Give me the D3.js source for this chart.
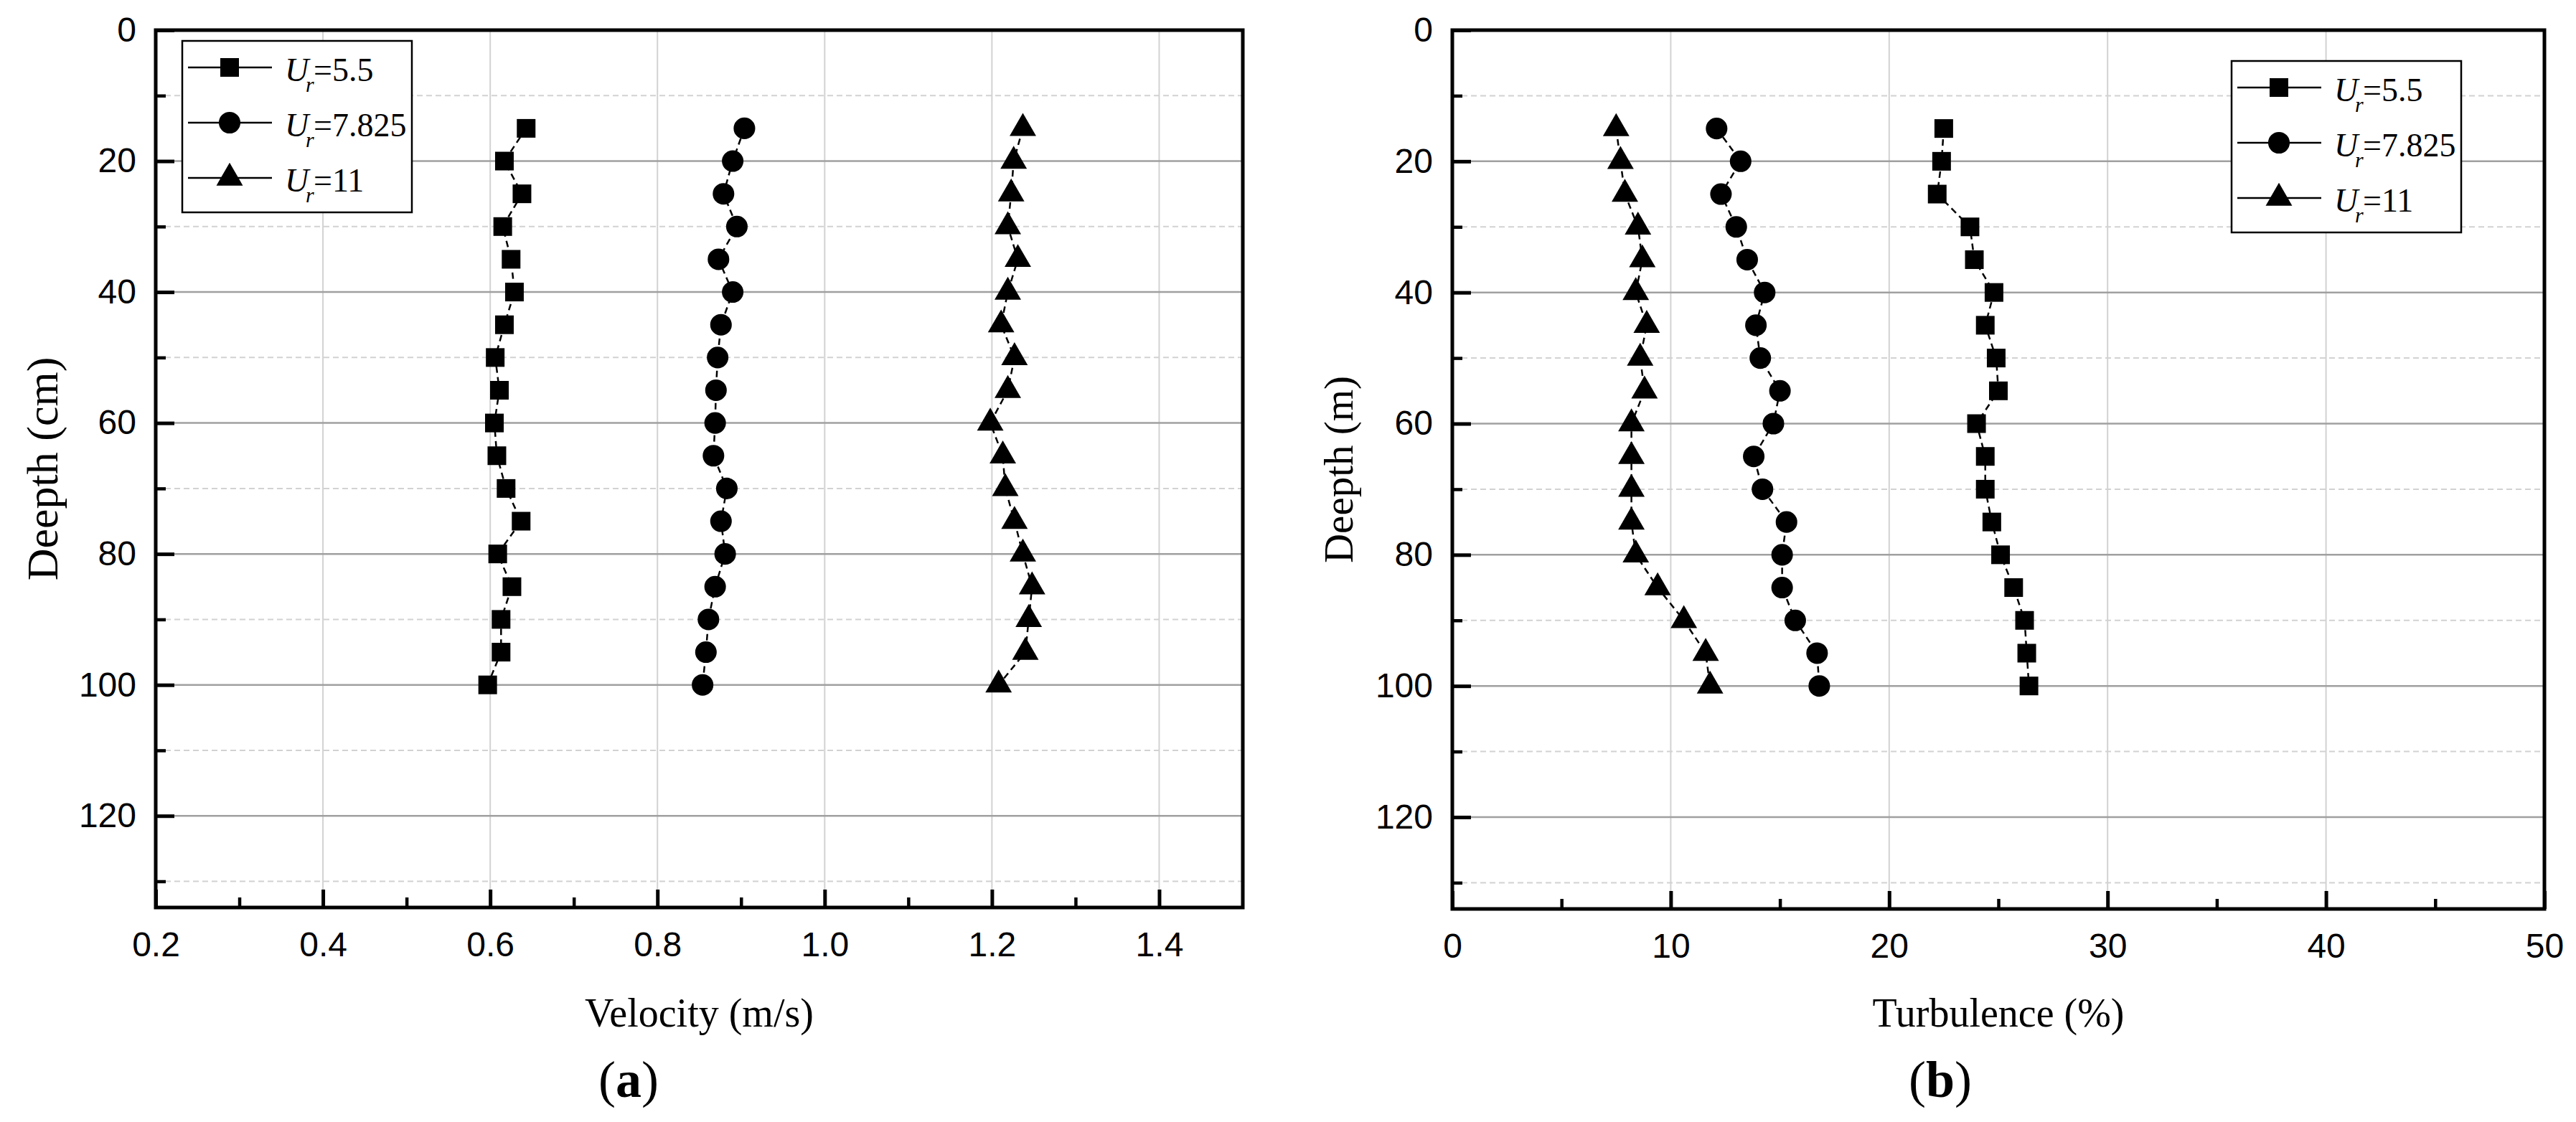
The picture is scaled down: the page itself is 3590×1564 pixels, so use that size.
<!DOCTYPE html>
<html>
<head>
<meta charset="utf-8">
<script src="https://cdn.jsdelivr.net/npm/d3@7"></script>
<style>
  body { margin: 0; background: #fff; }
  svg { display: block; }
</style>
</head>
<body>
<svg id="chart" width="3590" height="1564"></svg>
<script>
// depth of each measuring point (cm)
var depths = [15, 20, 25, 30, 35, 40, 45, 50, 55, 60, 65, 70, 75, 80, 85, 90, 95, 100];

// velocity (m/s)
var vel_55   = [0.643, 0.617, 0.638, 0.615, 0.625, 0.629, 0.617, 0.606, 0.611, 0.605, 0.608, 0.619, 0.637, 0.609, 0.626, 0.613, 0.613, 0.597];
var vel_7825 = [0.904, 0.890, 0.879, 0.895, 0.873, 0.890, 0.876, 0.872, 0.870, 0.869, 0.867, 0.883, 0.876, 0.881, 0.869, 0.861, 0.858, 0.854];
var vel_11   = [1.237, 1.226, 1.223, 1.219, 1.231, 1.219, 1.211, 1.227, 1.219, 1.198, 1.213, 1.216, 1.227, 1.237, 1.248, 1.244, 1.240, 1.208];

// turbulence (%)
var turb_55   = [22.5, 22.4, 22.2, 23.7, 23.9, 24.8, 24.4, 24.9, 25.0, 24.0, 24.4, 24.4, 24.7, 25.1, 25.7, 26.2, 26.3, 26.4];
var turb_7825 = [12.1, 13.2, 12.3, 13.0, 13.5, 14.3, 13.9, 14.1, 15.0, 14.7, 13.8, 14.2, 15.3, 15.1, 15.1, 15.7, 16.7, 16.8];
var turb_11   = [7.5, 7.7, 7.9, 8.5, 8.7, 8.4, 8.9, 8.6, 8.8, 8.2, 8.2, 8.2, 8.2, 8.4, 9.4, 10.6, 11.6, 11.8];

var series_labels = ["5.5", "7.825", "11"];

var depth_ticks = [0, 20, 40, 60, 80, 100, 120];
var depth_minor = [10, 30, 50, 70, 90, 110, 130];
var vel_ticks = [0.2, 0.4, 0.6, 0.8, 1.0, 1.2, 1.4];
var vel_minor = [0.3, 0.5, 0.7, 0.9, 1.1, 1.3];
var turb_ticks = [0, 10, 20, 30, 40, 50];
var turb_minor = [5, 15, 25, 35, 45];

var svg = d3.select("#chart");
svg.append("rect").attr("width", 3590).attr("height", 1564).attr("fill", "#fff");

// square, circle, triangle
var symbols = [
    d3.symbol().type(d3.symbolSquare).size(676),
    d3.symbol().type(d3.symbolCircle).size(710),
    d3.symbol().type(d3.symbolTriangle).size(590)
];

var serif = "'Liberation Serif', 'Times New Roman', serif";
var sans = "'Liberation Sans', Arial, sans-serif";

function draw_panel(opt) {
    var g = svg.append("g");
    var x = d3.scaleLinear().domain(opt.xdomain).range([opt.left, opt.right]);
    var y = d3.scaleLinear().domain([0, 134]).range([opt.top, opt.bottom]);

    // grid (vertical only at inner major ticks)
    g.selectAll(".vgrid").data(opt.xticks.slice(1)).enter()
        .append("line")
        .attr("x1", function (d) { return x(d); }).attr("x2", function (d) { return x(d); })
        .attr("y1", opt.top).attr("y2", opt.bottom)
        .attr("stroke", "#d2d2d2").attr("stroke-width", 2);
    g.selectAll(".hminor").data(depth_minor).enter()
        .append("line")
        .attr("x1", opt.left).attr("x2", opt.right)
        .attr("y1", function (d) { return y(d); }).attr("y2", function (d) { return y(d); })
        .attr("stroke", "#d2d2d2").attr("stroke-width", 2).attr("stroke-dasharray", "8,5");
    g.selectAll(".hmajor").data(depth_ticks.slice(1)).enter()
        .append("line")
        .attr("x1", opt.left).attr("x2", opt.right)
        .attr("y1", function (d) { return y(d); }).attr("y2", function (d) { return y(d); })
        .attr("stroke", "#a0a0a0").attr("stroke-width", 2.5);

    // axes, ticks pointing inward
    var yax = g.append("g").attr("transform", "translate(" + opt.left + ",0)")
        .call(d3.axisLeft(y).tickValues(depth_ticks).tickSizeInner(-26).tickSizeOuter(0).tickPadding(27));
    var ymin = g.append("g").attr("transform", "translate(" + opt.left + ",0)")
        .call(d3.axisLeft(y).tickValues(depth_minor).tickSizeInner(-14).tickSizeOuter(0).tickFormat(""));
    var xax = g.append("g").attr("transform", "translate(0," + opt.bottom + ")")
        .call(d3.axisBottom(x).tickValues(opt.xticks).tickSizeInner(-25).tickSizeOuter(0).tickPadding(34)
            .tickFormat(opt.xformat));
    var xmin = g.append("g").attr("transform", "translate(0," + opt.bottom + ")")
        .call(d3.axisBottom(x).tickValues(opt.xminor).tickSizeInner(-14).tickSizeOuter(0).tickFormat(""));

    [yax, ymin, xax, xmin].forEach(function (a) {
        a.select(".domain").remove();
        a.selectAll(".tick line").attr("stroke", "#000").attr("stroke-width", 5);
        a.selectAll("text").attr("fill", "#000").style("font-family", sans).style("font-size", "48px");
    });
    ymin.selectAll(".tick line").attr("stroke-width", 4.5);
    xmin.selectAll(".tick line").attr("stroke-width", 4.5);

    // frame
    g.append("rect")
        .attr("x", opt.left).attr("y", opt.top)
        .attr("width", opt.right - opt.left).attr("height", opt.bottom - opt.top)
        .attr("fill", "none").attr("stroke", "#000").attr("stroke-width", 5);

    // series
    var line = d3.line()
        .x(function (d) { return x(d[0]); })
        .y(function (d) { return y(d[1]); });
    opt.series.forEach(function (vals, k) {
        var pts = vals.map(function (v, i) { return [v, depths[i]]; });
        g.append("path").datum(pts)
            .attr("d", line)
            .attr("fill", "none").attr("stroke", "#000")
            .attr("stroke-width", 2.5).attr("stroke-dasharray", "9,6");
        g.selectAll(".m" + k).data(pts).enter()
            .append("path")
            .attr("d", symbols[k]())
            .attr("transform", function (d) { return "translate(" + x(d[0]) + "," + y(d[1]) + ")"; })
            .attr("fill", "#000");
    });

    // legend
    var lg = g.append("g").attr("transform", "translate(" + opt.legend[0] + "," + opt.legend[1] + ")");
    lg.append("rect").attr("width", 320).attr("height", 239)
        .attr("fill", "#fff").attr("stroke", "#000").attr("stroke-width", 2.5);
    series_labels.forEach(function (lab, k) {
        var cy = 37 + k * 77;
        lg.append("line").attr("x1", 8).attr("x2", 125).attr("y1", cy).attr("y2", cy)
            .attr("stroke", "#000").attr("stroke-width", 2.5);
        lg.append("path").attr("d", symbols[k]())
            .attr("transform", "translate(66," + cy + ")").attr("fill", "#000");
        var t = lg.append("text").attr("y", cy + 19)
            .style("font-family", serif).style("font-size", "46px").attr("fill", "#000");
        t.append("tspan").attr("x", 143).style("font-style", "italic").text("U");
        t.append("tspan").attr("x", 172).attr("dy", 15).style("font-style", "italic")
            .style("font-size", "30px").text("r");
        t.append("tspan").attr("x", 183).attr("dy", -15).text("=" + lab);
    });

    // axis titles
    g.append("text")
        .attr("x", (opt.left + opt.right) / 2).attr("y", 1431)
        .attr("text-anchor", "middle")
        .style("font-family", serif).style("font-size", "56px")
        .text(opt.xtitle);
    g.append("text")
        .attr("transform", "translate(" + opt.ytitle_x + "," + (opt.top + opt.bottom) / 2 + ") rotate(-90)")
        .attr("text-anchor", "middle")
        .style("font-family", serif).style("font-size", opt.ytitle_size + "px")
        .text(opt.ytitle);

    // panel label
    var pl = g.append("text")
        .attr("x", opt.label_x).attr("y", 1529)
        .attr("text-anchor", "middle")
        .style("font-family", serif).style("font-size", "72px");
    pl.append("tspan").text("(");
    pl.append("tspan").style("font-weight", "bold").text(opt.label);
    pl.append("tspan").text(")");
}

draw_panel({
    left: 217, right: 1732, top: 42, bottom: 1265,
    xdomain: [0.2, 1.5], xticks: vel_ticks, xminor: vel_minor, xformat: d3.format(".1f"),
    series: [vel_55, vel_7825, vel_11],
    legend: [254, 57],
    xtitle: "Velocity (m/s)",
    ytitle: "Deepth (cm)", ytitle_x: 80, ytitle_size: 62,
    label: "a", label_x: 876
});

draw_panel({
    left: 2024, right: 3546, top: 42, bottom: 1267,
    xdomain: [0, 50], xticks: turb_ticks, xminor: turb_minor, xformat: d3.format("d"),
    series: [turb_55, turb_7825, turb_11],
    legend: [3110, 85],
    xtitle: "Turbulence (%)",
    ytitle: "Deepth (m)", ytitle_x: 1885, ytitle_size: 57,
    label: "b", label_x: 2704
});
</script>
</body>
</html>
